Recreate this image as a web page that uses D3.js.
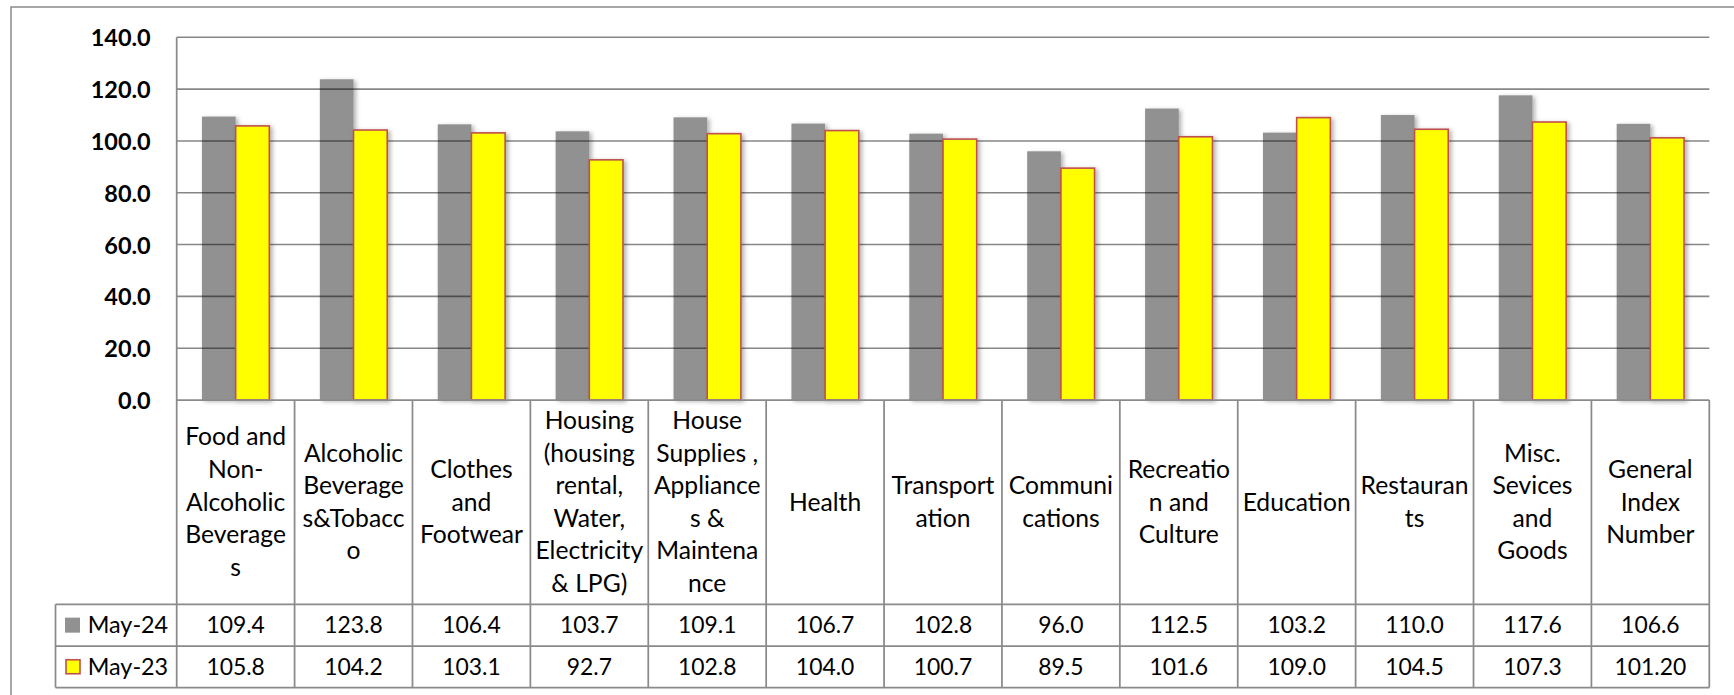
<!DOCTYPE html>
<html>
<head>
<meta charset="utf-8">
<script src="https://cdn.jsdelivr.net/npm/d3@7"></script>
<style>
  html, body { margin: 0; padding: 0; background: #fff; }
  svg { display: block; }
</style>
</head>
<body>
<svg id="chart" width="1734" height="695"></svg>
<script>
// ---------- DATA ----------
const categories = [
  "Food and\nNon-\nAlcoholic\nBeverage\ns",
  "Alcoholic\nBeverage\ns&Tobacc\no",
  "Clothes\nand\nFootwear",
  "Housing\n(housing\nrental,\nWater,\nElectricity\n& LPG)",
  "House\nSupplies ,\nAppliance\ns &\nMaintena\nnce",
  "Health",
  "Transport\nation",
  "Communi\ncations",
  "Recreatio\nn and\nCulture",
  "Education",
  "Restauran\nts",
  "Misc.\nSevices\nand\nGoods",
  "General\nIndex\nNumber"
];
const seriesNames = ["May-24", "May-23"];
const may24 = [109.4, 123.8, 106.4, 103.7, 109.1, 106.7, 102.8, 96.0, 112.5, 103.2, 110.0, 117.6, 106.6];
const may23 = [105.8, 104.2, 103.1, 92.7, 102.8, 104.0, 100.7, 89.5, 101.6, 109.0, 104.5, 107.3, 101.20];
const may24Labels = ["109.4","123.8","106.4","103.7","109.1","106.7","102.8","96.0","112.5","103.2","110.0","117.6","106.6"];
const may23Labels = ["105.8","104.2","103.1","92.7","102.8","104.0","100.7","89.5","101.6","109.0","104.5","107.3","101.20"];
const yTicks = [0, 20, 40, 60, 80, 100, 120, 140];

// ---------- LAYOUT ----------
const svg = d3.select("#chart");
const FONT = "Lato, 'Open Sans', sans-serif";
const plotLeft = 176.7, plotRight = 1709.3, plotTop = 37.3, plotBottom = 400;
const headerBottom = 604.3, row1Bottom = 646, row2Bottom = 687.5, legendLeft = 55.5;
const lineCol = "#8a8a8a";

// font size calibration so text widths match reference
const meas = svg.append("text").attr("font-family", FONT).attr("font-size", 100).attr("x", -9999).attr("y", -9999);
function fit(str, target, weight) {
  meas.attr("font-weight", weight || "normal").text(str);
  return 100 * target / meas.node().getComputedTextLength();
}
const catSize = fit("Transport", 103, "normal");
const valSize = fit("109.4", 58.5, "normal");
const legSize = fit("May-24", 80.5, "normal");
const tickSize = fit("140.0", 60, "bold");
meas.remove();

// shadow filter
const defs = svg.append("defs");
const f = defs.append("filter").attr("id", "shadow").attr("x", "-20%").attr("y", "-5%").attr("width", "150%").attr("height", "115%");
f.append("feDropShadow").attr("dx", 2.5).attr("dy", 1.5).attr("stdDeviation", 2).attr("flood-color", "#000").attr("flood-opacity", 0.3);

// outer chart border
svg.append("rect").attr("x", 11).attr("y", 7).attr("width", 1760).attr("height", 720)
  .attr("fill", "none").attr("stroke", lineCol).attr("stroke-width", 1.5);

// scales
const x0 = d3.scaleBand().domain(d3.range(categories.length)).range([plotLeft, plotRight]).padding(0);
const x1 = d3.scaleBand().domain(seriesNames).range([0, x0.bandwidth()]).paddingInner(0).paddingOuter(0.75);
const y = d3.scaleLinear().domain([0, 140]).range([plotBottom, plotTop]);

// May-24 bars (grey)
svg.append("g").selectAll("rect").data(may24).join("rect")
  .attr("x", (d, i) => x0(i) + x1("May-24"))
  .attr("y", d => y(d))
  .attr("width", x1.bandwidth())
  .attr("height", d => y(0) - y(d))
  .attr("fill", "#919191")
  .attr("filter", "url(#shadow)");

// gridlines (semi-transparent so they darken over grey bars)
svg.append("g").selectAll("line").data(yTicks.filter(t => t > 0)).join("line")
  .attr("x1", plotLeft).attr("x2", plotRight)
  .attr("y1", d => y(d)).attr("y2", d => y(d))
  .attr("stroke", "rgba(0,0,0,0.47)").attr("stroke-width", 1.6);

// May-23 bars (yellow)
svg.append("g").selectAll("rect").data(may23).join("rect")
  .attr("x", (d, i) => x0(i) + x1("May-23"))
  .attr("y", d => y(d))
  .attr("width", x1.bandwidth())
  .attr("height", d => y(0) - y(d))
  .attr("fill", "#ffff00")
  .attr("stroke", "#c0504d").attr("stroke-width", 1.6)
  .attr("filter", "url(#shadow)");

// y axis
const yAxis = d3.axisLeft(y).tickValues(yTicks).tickFormat(d3.format(".1f")).tickSize(0).tickPadding(26);
const ya = svg.append("g").attr("transform", `translate(${plotLeft},0)`).call(yAxis);
ya.select(".domain").remove();
ya.selectAll("text").attr("font-family", FONT).attr("font-weight", "bold")
  .attr("font-size", tickSize).attr("fill", "#000").attr("dy", "0.36em");

// table lines
const tl = svg.append("g").attr("stroke", lineCol).attr("stroke-width", 1.75).attr("fill", "none");
tl.append("line").attr("x1", plotLeft).attr("x2", plotLeft).attr("y1", plotTop).attr("y2", row2Bottom);
tl.append("line").attr("x1", plotLeft).attr("x2", plotRight).attr("y1", plotBottom).attr("y2", plotBottom);
tl.selectAll(".v").data(d3.range(1, categories.length + 1)).join("line")
  .attr("x1", i => x0(i) === undefined ? plotRight : x0(i))
  .attr("x2", i => x0(i) === undefined ? plotRight : x0(i))
  .attr("y1", plotBottom).attr("y2", row2Bottom);
tl.append("line").attr("x1", legendLeft).attr("x2", legendLeft).attr("y1", headerBottom).attr("y2", row2Bottom);
[headerBottom, row1Bottom, row2Bottom].forEach(yy => {
  tl.append("line").attr("x1", legendLeft).attr("x2", plotRight).attr("y1", yy).attr("y2", yy);
});

// category labels
const headerMid = (plotBottom + headerBottom) / 2;
const lh = 32.6;
const cg = svg.append("g").attr("font-family", FONT).attr("font-size", catSize).attr("text-anchor", "middle").attr("fill", "#000");
categories.forEach((c, i) => {
  const lines = c.split("\n");
  const cx = x0(i) + x0.bandwidth() / 2;
  lines.forEach((ln, j) => {
    const cy = headerMid + (j - (lines.length - 1) / 2) * lh;
    cg.append("text").attr("x", cx).attr("y", cy + 0.34 * catSize).text(ln);
  });
});

// values rows
const rows = [
  { labels: may24Labels, top: headerBottom, bottom: row1Bottom },
  { labels: may23Labels, top: row1Bottom, bottom: row2Bottom }
];
const vg = svg.append("g").attr("font-family", FONT).attr("font-size", valSize).attr("text-anchor", "middle").attr("fill", "#000");
rows.forEach(r => {
  const cy = (r.top + r.bottom) / 2;
  r.labels.forEach((t, i) => {
    vg.append("text").attr("x", x0(i) + x0.bandwidth() / 2).attr("y", cy + 0.35 * valSize).text(t);
  });
});

// legend cells
const lg = svg.append("g");
rows.forEach((r, k) => {
  const cy = (r.top + r.bottom) / 2;
  if (k === 0) {
    lg.append("rect").attr("x", 65).attr("y", cy - 7.5).attr("width", 15).attr("height", 15).attr("fill", "#919191");
  } else {
    lg.append("rect").attr("x", 66).attr("y", cy - 7).attr("width", 14).attr("height", 14)
      .attr("fill", "#ffff00").attr("stroke", "#c0504d").attr("stroke-width", 1.6);
  }
  lg.append("text").attr("x", 87.7).attr("y", cy + 0.35 * legSize)
    .attr("font-family", FONT).attr("font-size", legSize).attr("fill", "#000").text(seriesNames[k]);
});
</script>
</body>
</html>
